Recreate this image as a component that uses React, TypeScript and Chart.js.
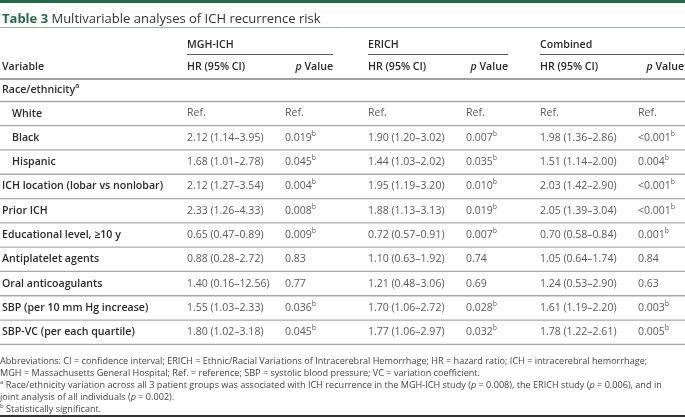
import React, { useEffect, useRef } from "react";
import { Chart, registerables } from "chart.js";
Chart.register(...registerables);

// ---------- data ----------
const titleLabel = "Table 3";
const titleText = "Multivariable analyses of ICH recurrence risk";
const groups = ["MGH-ICH", "ERICH", "Combined"];
const variables = [
  "Race/ethnicity",
  "White",
  "Black",
  "Hispanic",
  "ICH location (lobar vs nonlobar)",
  "Prior ICH",
  "Educational level, ≥10 y",
  "Antiplatelet agents",
  "Oral anticoagulants",
  "SBP (per 10 mm Hg increase)",
  "SBP-VC (per each quartile)",
];
const variableSup = ["a", "", "", "", "", "", "", "", "", "", ""];
const indented = [false, true, true, true, false, false, false, false, false, false, false];
const isHeading = [true, false, false, false, false, false, false, false, false, false, false];
const isRef = [false, true, false, false, false, false, false, false, false, false, false];

const mghHR = [null, null, 2.12, 1.68, 2.12, 2.33, 0.65, 0.88, 1.4, 1.55, 1.8];
const mghLo = [null, null, 1.14, 1.01, 1.27, 1.26, 0.47, 0.28, 0.16, 1.03, 1.02];
const mghHi = [null, null, 3.95, 2.78, 3.54, 4.33, 0.89, 2.72, 12.56, 2.33, 3.18];
const mghP = ["", "Ref.", "0.019", "0.045", "0.004", "0.008", "0.009", "0.83", "0.77", "0.036", "0.045"];

const erichHR = [null, null, 1.9, 1.44, 1.95, 1.88, 0.72, 1.1, 1.21, 1.7, 1.77];
const erichLo = [null, null, 1.2, 1.03, 1.19, 1.13, 0.57, 0.63, 0.48, 1.06, 1.06];
const erichHi = [null, null, 3.02, 2.02, 3.2, 3.13, 0.91, 1.92, 3.06, 2.72, 2.97];
const erichP = ["", "Ref.", "0.007", "0.035", "0.010", "0.019", "0.007", "0.74", "0.69", "0.028", "0.032"];

const combHR = [null, null, 1.98, 1.51, 2.03, 2.05, 0.7, 1.05, 1.24, 1.61, 1.78];
const combLo = [null, null, 1.36, 1.14, 1.42, 1.39, 0.58, 0.64, 0.53, 1.19, 1.22];
const combHi = [null, null, 2.86, 2.0, 2.9, 3.04, 0.84, 1.74, 2.9, 2.2, 2.61];
const combP = ["", "Ref.", "<0.001", "0.004", "<0.001", "<0.001", "0.001", "0.84", "0.63", "0.003", "0.005"];

const pSig = [false, false, true, true, true, true, true, false, false, true, true];

const footnotes = [
  "Abbreviations: CI = confidence interval; ERICH = Ethnic/Racial Variations of Intracerebral Hemorrhage; HR = hazard ratio; ICH = intracerebral hemorrhage;",
  "MGH = Massachusetts General Hospital; Ref. = reference; SBP = systolic blood pressure; VC = variation coefficient.",
  "^a Race/ethnicity variation across all 3 patient groups was associated with ICH recurrence in the MGH-ICH study (*p* = 0.008), the ERICH study (*p* = 0.006), and in",
  "joint analysis of all individuals (*p* = 0.002).",
  "^b Statistically significant.",
];

// ---------- layout / style ----------
const W = 685;
const H = 418;
const FONT = '"Open Sans", "Noto Sans", sans-serif';
const GREEN = "#226c4d";
const LABEL_COLOR = "#2b2b2b";
const VALUE_COLOR = "#5a5a5a";
const RULE = "#a9a9a9";
const LABEL_SIZE = 10.6;
const VALUE_SIZE = 10.5;
const FOOT_SIZE = 9.12;

const colHR = [187, 368, 540];
const colP = [285, 466, 638];
const colEnd = [333, 508, 684];

const yTitle = 19;
const yTitleRule = 27.5;
const yGroup = 45;
const yGroupRule = 54.5;
const yColHead = 67;
const yHeadRule = 79;
const yFirstRow = 90;
const yRowsStart = 113.5;
const pitch = 24.3;
const yFoot = 361;
const footPitch = 12.2;
const yBottom = 416;

type Seg = { t: string; weight?: number; italic?: boolean; sup?: boolean; color?: string };

function fontOf(size: number, weight: number, italic: boolean) {
  return `${italic ? "italic " : ""}${weight} ${size}px ${FONT}`;
}

function drawRich(
  ctx: CanvasRenderingContext2D,
  segs: Seg[],
  x: number,
  y: number,
  size: number,
  weight: number,
  color: string,
  align: "left" | "right" = "left"
) {
  const measure = (s: Seg) => {
    const sz = s.sup ? size * 0.66 : size;
    ctx.font = fontOf(sz, s.weight ?? weight, !!s.italic);
    return ctx.measureText(s.t).width;
  };
  let total = 0;
  segs.forEach((s) => (total += measure(s)));
  let cx = align === "right" ? x - total : x;
  ctx.textBaseline = "middle";
  ctx.textAlign = "left";
  segs.forEach((s) => {
    const sz = s.sup ? size * 0.66 : size;
    ctx.font = fontOf(sz, s.weight ?? weight, !!s.italic);
    ctx.fillStyle = s.color ?? color;
    ctx.fillText(s.t, cx, s.sup ? y - size * 0.38 : y);
    cx += ctx.measureText(s.t).width;
  });
}

function parseMarkup(str: string): Seg[] {
  const segs: Seg[] = [];
  let rest = str;
  if (rest.startsWith("^")) {
    segs.push({ t: rest[1], sup: true });
    rest = rest.slice(2);
  }
  const parts = rest.split("*");
  parts.forEach((p, i) => {
    if (p) segs.push({ t: p, italic: i % 2 === 1 });
  });
  return segs;
}

const fmt = (v: number) => v.toFixed(2);

const tablePlugin = {
  id: "tablePlugin",
  afterDraw(chart: any) {
    const ctx: CanvasRenderingContext2D = chart.ctx;
    const xs = chart.scales.x;
    const ys = chart.scales.y;
    const px = (v: number) => xs.getPixelForValue(v);
    const py = (v: number) => ys.getPixelForValue(v);
    ctx.save();

    const hline = (x0: number, x1: number, y: number, w: number, c: string) => {
      ctx.beginPath();
      ctx.strokeStyle = c;
      ctx.lineWidth = w;
      ctx.moveTo(px(x0), py(y));
      ctx.lineTo(px(x1), py(y));
      ctx.stroke();
    };

    // top green bar
    ctx.fillStyle = GREEN;
    ctx.fillRect(px(0), py(0), px(W) - px(0), py(3) - py(0));

    // title
    drawRich(
      ctx,
      [
        { t: titleLabel, weight: 700, color: GREEN },
        { t: " " + titleText, weight: 400, color: "#333" },
      ],
      px(2),
      py(yTitle),
      13,
      400,
      "#333"
    );
    hline(0, W, yTitleRule, 1, "#9ab5a8");

    // group headers
    groups.forEach((g, i) => {
      drawRich(ctx, [{ t: g }], px(colHR[i]), py(yGroup), LABEL_SIZE, 600, LABEL_COLOR);
      hline(colHR[i], colEnd[i], yGroupRule, 1, "#555");
      drawRich(ctx, [{ t: "HR (95% CI)" }], px(colHR[i]), py(yColHead), LABEL_SIZE, 600, LABEL_COLOR);
      drawRich(
        ctx,
        [{ t: "p", italic: true }, { t: " Value" }],
        px(colEnd[i]),
        py(yColHead),
        LABEL_SIZE,
        600,
        LABEL_COLOR,
        "right"
      );
    });
    drawRich(ctx, [{ t: "Variable" }], px(2), py(yColHead), LABEL_SIZE, 600, LABEL_COLOR);
    hline(0, W, yHeadRule, 2, "#a0a0a0");

    const hrs = [mghHR, erichHR, combHR];
    const los = [mghLo, erichLo, combLo];
    const his = [mghHi, erichHi, combHi];
    const ps = [mghP, erichP, combP];

    variables.forEach((v, r) => {
      const y = r === 0 ? yFirstRow : yRowsStart + (r - 1) * pitch;
      const segs: Seg[] = [{ t: v }];
      if (variableSup[r]) segs.push({ t: variableSup[r], sup: true });
      drawRich(ctx, segs, px(indented[r] ? 12 : 2), py(y), LABEL_SIZE, 600, LABEL_COLOR);
      if (!isHeading[r]) {
        for (let g = 0; g < 3; g++) {
          const hr = hrs[g][r];
          const txt = isRef[r] || hr == null ? "Ref." : `${fmt(hr)} (${fmt(los[g][r] as number)}–${fmt(his[g][r] as number)})`;
          drawRich(ctx, [{ t: txt }], px(colHR[g]), py(y), VALUE_SIZE, 400, VALUE_COLOR);
          const pSegs: Seg[] = [{ t: ps[g][r] }];
          if (pSig[r]) pSegs.push({ t: "b", sup: true });
          drawRich(ctx, pSegs, px(colP[g]), py(y), VALUE_SIZE, 400, VALUE_COLOR);
        }
      }
      const ruleY = y + (r === 0 ? 11.5 : pitch / 2);
      hline(0, W, ruleY, 1.3, RULE);
    });

    // footnotes
    footnotes.forEach((f, i) => {
      drawRich(ctx, parseMarkup(f), px(0), py(yFoot + i * footPitch), FOOT_SIZE, 400, "#444");
    });
    hline(0, W, yBottom, 2, "#333");

    ctx.restore();
  },
};

export default function App() {
  const ref = useRef<HTMLCanvasElement | null>(null);
  useEffect(() => {
    if (!ref.current) return;
    const chart = new Chart(ref.current, {
      type: "scatter",
      data: { datasets: [{ data: [], pointRadius: 0 }] },
      options: {
        animation: false,
        responsive: true,
        maintainAspectRatio: false,
        layout: { padding: 0 },
        plugins: { legend: { display: false }, tooltip: { enabled: false }, title: { display: false } },
        scales: {
          x: { type: "linear", min: 0, max: W, display: false },
          y: { type: "linear", min: 0, max: H, reverse: true, display: false },
        },
      },
      plugins: [tablePlugin],
    });
    return () => chart.destroy();
  }, []);
  return (
    <div style={{ position: "fixed", left: 0, top: 0, width: W, height: H, background: "#fff" }}>
      <canvas ref={ref} />
    </div>
  );
}
